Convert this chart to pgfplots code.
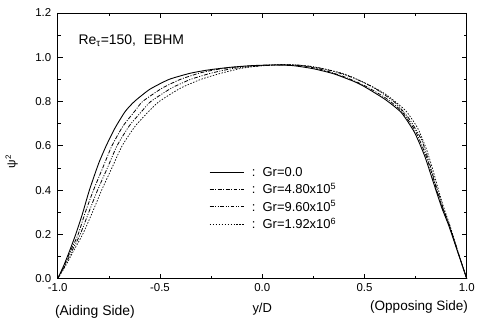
\documentclass[border=0pt]{standalone}
\usepackage{fontspec}
\setmainfont{Liberation Sans}
\usepackage{pgfplots}
\pgfplotsset{compat=1.18}
\begin{document}
\begin{tikzpicture}
\begin{axis}[
  scale only axis,
  width=411pt, height=267pt,
  xmin=-1, xmax=1, ymin=0, ymax=1.2,
  xtick={-1,-0.5,0,0.5,1},
  xticklabels={-1.0,-0.5,0.0,0.5,1.0},
  ytick={0,0.2,0.4,0.6,0.8,1.0,1.2},
  yticklabels={0.0,0.2,0.4,0.6,0.8,1.0,1.2},
  minor x tick num=1, minor y tick num=1,
  tick align=inside,
  major tick length=5pt, minor tick length=3pt,
  tick style={black, line width=0.6pt},
  axis line style={line width=0.8pt},
  ticklabel style={font=\fontsize{11.5}{13}\selectfont},
  xticklabel style={yshift=-1.5pt},
  yticklabel style={xshift=-3pt},
  legend style={draw=none, fill=none, at={(axis cs:-0.275,0.522)}, anchor=north west,
    font=\fontsize{13}{15}\selectfont, row sep=1.5pt},
  legend cell align=left,
  legend image code/.code={\draw[#1](0pt,0pt)--(35pt,0pt);},
  clip=false,
]
\addplot[black, line width=0.9pt, smooth, tension=0.35] coordinates {
(-1,0) (-0.97,0.06) (-0.94,0.13) (-0.912,0.2) (-0.88,0.29) (-0.845,0.4) (-0.80,0.52) (-0.763,0.6) (-0.72,0.68) (-0.67,0.755) (-0.625,0.8) (-0.55,0.855) (-0.455,0.9) (-0.35,0.928) (-0.26,0.943) (-0.15,0.955) (-0.05,0.962) (0.05,0.965) (0.15,0.962) (0.25,0.948) (0.35,0.925) (0.45,0.89) (0.5,0.867) (0.6,0.81) (0.68,0.75) (0.745,0.66) (0.794,0.555) (0.828,0.46) (0.851,0.395) (0.878,0.32) (0.912,0.24) (0.956,0.12) (1,0)
};
\addlegendentry{\hspace{5pt}:\ \ Gr=0.0}
\addplot[black, line width=0.8pt, smooth, tension=0.35, dash pattern=on 4pt off 1.5pt on 1pt off 1.5pt] coordinates {
(-1,0) (-0.968,0.06) (-0.935,0.13) (-0.90,0.2) (-0.865,0.3) (-0.825,0.4) (-0.78,0.5) (-0.735,0.6) (-0.68,0.69) (-0.62,0.76) (-0.585,0.8) (-0.49,0.86) (-0.40,0.9) (-0.3,0.93) (-0.2,0.948) (-0.1,0.958) (0,0.963) (0.1,0.966) (0.2,0.961) (0.3,0.942) (0.4,0.912) (0.5,0.872) (0.6,0.818) (0.68,0.758) (0.75,0.665) (0.798,0.562) (0.832,0.468) (0.854,0.397) (0.881,0.32) (0.914,0.24) (0.957,0.12) (1,0)
};
\addlegendentry{\hspace{5pt}:\ \ Gr=4.80x10\textsuperscript{5}}
\addplot[black, line width=0.8pt, smooth, tension=0.35, dash pattern=on 4pt off 1.5pt on 1pt off 1.5pt on 1pt off 1.5pt] coordinates {
(-1,0) (-0.964,0.06) (-0.928,0.13) (-0.89,0.2) (-0.848,0.3) (-0.805,0.4) (-0.757,0.5) (-0.71,0.6) (-0.65,0.69) (-0.585,0.76) (-0.545,0.8) (-0.445,0.86) (-0.35,0.9) (-0.25,0.928) (-0.15,0.948) (-0.05,0.958) (0.05,0.964) (0.15,0.966) (0.25,0.957) (0.35,0.936) (0.45,0.905) (0.55,0.86) (0.65,0.795) (0.72,0.72) (0.78,0.625) (0.818,0.52) (0.840,0.45) (0.857,0.398) (0.884,0.32) (0.916,0.24) (0.957,0.12) (1,0)
};
\addlegendentry{\hspace{5pt}:\ \ Gr=9.60x10\textsuperscript{5}}
\addplot[black, line width=0.7pt, smooth, tension=0.35, dash pattern=on 1.5pt off 1.5pt] coordinates {
(-1,0) (-0.96,0.06) (-0.92,0.13) (-0.878,0.2) (-0.83,0.3) (-0.785,0.4) (-0.735,0.5) (-0.685,0.6) (-0.62,0.69) (-0.55,0.76) (-0.504,0.8) (-0.40,0.86) (-0.30,0.9) (-0.2,0.928) (-0.1,0.95) (0,0.962) (0.1,0.967) (0.2,0.962) (0.3,0.948) (0.4,0.925) (0.5,0.885) (0.6,0.835) (0.7,0.76) (0.76,0.68) (0.805,0.58) (0.838,0.48) (0.862,0.40) (0.888,0.32) (0.918,0.24) (0.958,0.12) (1,0)
};
\addlegendentry{\hspace{5pt}:\ \ Gr=1.92x10\textsuperscript{6}}
\node[anchor=west, font=\fontsize{14}{16}\selectfont] at (axis cs:-0.915,1.075) {Re\textsubscript{τ}=150,\ \ EBHM};
\node[font=\fontsize{13}{15}\selectfont] at (axis cs:0,-0.14) {y/D};
\node[font=\fontsize{14}{16}\selectfont] at (axis cs:-0.818,-0.15) {(Aiding Side)};
\node[font=\fontsize{13.6}{16}\selectfont] at (axis cs:0.767,-0.128) {(Opposing Side)};
\node[rotate=90, font=\fontsize{12}{14}\selectfont] at (axis cs:-1.225,0.53) {ψ\textsuperscript{2}};
\end{axis}
\useasboundingbox ([shift={(-58pt,-42pt)}]current axis.south west) rectangle ([shift={(9pt,13pt)}]current axis.north east);
\end{tikzpicture}
\end{document}
